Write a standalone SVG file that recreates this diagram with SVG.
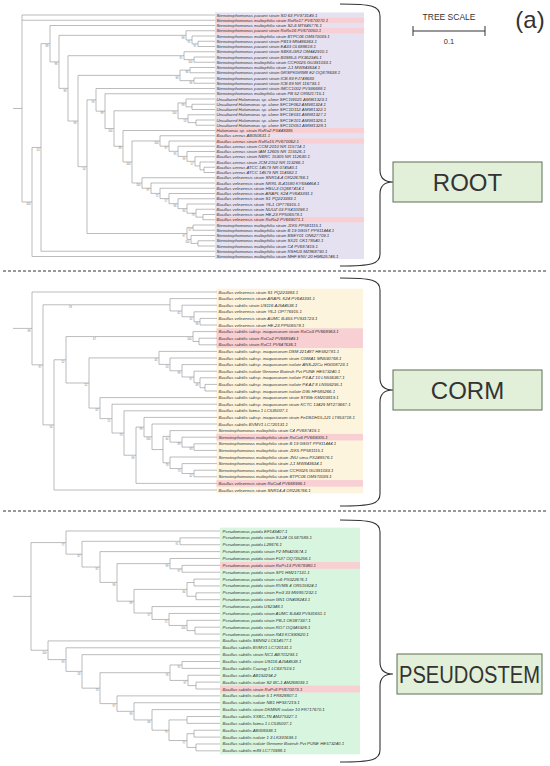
<svg xmlns="http://www.w3.org/2000/svg" width="550" height="766" viewBox="0 0 550 766">
<style>
.br{fill:none;stroke:#8f8f8f;stroke-width:0.6}
.lf{font-family:"Liberation Sans",Arial,sans-serif;font-style:italic;font-size:4.3px;fill:#333}
.bs{font-family:"Liberation Sans",Arial,sans-serif;font-size:2.6px;fill:#777;text-anchor:end}
.hl{fill:#f8cfd3}
.dash{stroke:#333;stroke-width:1;stroke-dasharray:3 2}
.brace{fill:none;stroke:#333;stroke-width:1.1}
.box{fill:#e2efd9;stroke:#5f6f55;stroke-width:1}
.big{font-family:"Liberation Sans",Arial,sans-serif;font-size:24px;fill:#333;text-anchor:middle}
</style>
<rect width="550" height="766" fill="#fff"/>
<g id="panel-backgrounds">
<rect x="215" y="12.4" width="149" height="246.7" fill="#e5e1f0"/>
<rect x="216.5" y="288.7" width="146.5" height="204.6" fill="#fdf4de"/>
<rect x="220" y="527.6" width="140" height="226.7" fill="#d8f5e0"/>
<rect class="hl" x="215" y="17.6" width="149" height="5.25"/>
<rect class="hl" x="215" y="28.1" width="149" height="5.25"/>
<rect class="hl" x="215" y="127.9" width="149" height="5.25"/>
<rect class="hl" x="215" y="138.4" width="149" height="5.25"/>
<rect class="hl" x="215" y="217.1" width="149" height="5.25"/>
<rect class="hl" x="216.5" y="328.3" width="146.5" height="19.8"/>
<rect class="hl" x="216.5" y="433.9" width="146.5" height="6.6"/>
<rect class="hl" x="216.5" y="480.1" width="146.5" height="6.6"/>
<rect class="hl" x="220" y="561.9" width="140" height="6.87"/>
<rect class="hl" x="220" y="685.6" width="140" height="6.87"/>
</g>
<g id="connectors">
<path class="br" d="M13 108.5H22M22 15V201.98M22 15H215M22 20.25H215M22 201.98H32
M32 147.46V256.5M32 147.46H41M32 256.5H215
M41 43.68V251.25M41 43.68H50M41 251.25H215
M50 25.5V61.85M50 25.5H215M50 61.85H59
M59 35.34V88.36M59 35.34H186M59 88.36H68
M186 30.75V39.94M186 30.75H215M186 39.94H192
M192 36V43.88M192 36H215M192 43.88H198
M198 41.25V46.5M198 41.25H215M198 46.5H215
M68 55.69V121.03M68 55.69H184M68 121.03H78
M184 51.75V59.63M184 51.75H215M184 59.63H194
M194 57V62.25M194 57H215M194 62.25H215
M78 75.38V166.68M78 75.38H180M78 166.68H87
M180 70.13V80.63M180 70.13H190M180 80.63H194
M190 67.5V72.75M190 67.5H215M190 72.75H215
M194 78V83.25M194 78H215M194 83.25H215
M87 99.82V233.53M87 99.82H96M87 233.53H187
M96 88.5V111.14M96 88.5H215M96 111.14H105
M105 93.75V128.53M105 93.75H215M105 128.53H114
M114 110.81V146.24M114 110.81H178M114 146.24H123
M178 102.94V118.69M178 102.94H186M178 118.69H188
M186 99V106.88M186 99H215M186 106.88H192
M192 104.25V109.5M192 104.25H215M192 109.5H215
M188 114.75V122.63M188 114.75H215M188 122.63H196
M196 120V125.25M196 120H215M196 125.25H215
M123 130.5V161.97M123 130.5H215M123 161.97H132
M132 140.96V182.98M132 140.96H160M132 182.98H142
M160 135.75V146.17M160 135.75H215M160 146.17H169
M169 141V151.34M169 141H215M169 151.34H178
M178 146.25V156.42M178 146.25H215M178 156.42H187
M187 151.5V161.34M187 151.5H215M187 161.34H195
M195 156.75V165.94M195 156.75H215M195 165.94H200
M200 162V169.88M200 162H215M200 169.88H204
M204 167.25V172.5M204 167.25H215M204 172.5H215
M142 177.75V188.21M142 177.75H215M142 188.21H151
M151 183V193.42M151 183H215M151 193.42H160
M160 188.25V198.59M160 188.25H215M160 198.59H169
M169 193.5V203.67M169 193.5H215M169 203.67H178
M178 198.75V208.59M178 198.75H215M178 208.59H187
M187 204V213.19M187 204H215M187 213.19H196
M196 209.25V217.13M196 209.25H215M196 217.13H203
M203 214.5V219.75M203 214.5H215M203 219.75H215
M187 227.63V239.44M187 227.63H193M187 239.44H191
M193 225V230.25M193 225H215M193 230.25H215
M191 235.5V243.38M191 235.5H215M191 243.38H198
M198 240.75V246M198 240.75H215M198 246H215"/>
<path class="br" d="M13 328.4H32M32 292V364.84M32 292H217M32 364.84H43
M43 304.79V424.89M43 304.79H170M43 424.89H54
M170 298.6V310.98M170 298.6H217M170 310.98H182
M182 305.2V316.75M182 305.2H217M182 316.75H194
M194 311.8V321.7M194 311.8H217M194 321.7H200
M200 318.4V325M200 318.4H217M200 325H217
M54 359.78V490M54 359.78H66M54 490H217
M66 336.55V383M66 336.55H193M66 383H89
M193 331.6V341.5M193 331.6H217M193 341.5H199
M199 338.2V344.8M199 338.2H217M199 344.8H217
M89 357.9V408.1M89 357.9H159M89 408.1H100
M159 351.4V364.4M159 351.4H217M159 364.4H170
M170 358V370.79M170 358H217M170 370.79H182
M182 364.6V376.98M182 364.6H217M182 376.98H194
M194 371.2V382.75M194 371.2H217M194 382.75H200
M200 377.8V387.7M200 377.8H217M200 387.7H205
M205 384.4V391M205 384.4H217M205 391H217
M100 397.6V418.6M100 397.6H217M100 418.6H112
M112 404.2V433.03M112 404.2H217M112 433.03H124
M124 410.8V455.25M124 410.8H217M124 455.25H136
M136 427.1V483.4M136 427.1H144M136 483.4H217
M144 417.4V436.79M144 417.4H217M144 436.79H152
M152 424V449.58M152 424H217M152 449.58H163
M163 436.38V462.78M163 436.38H170M163 462.78H170
M170 430.6V442.15M170 430.6H217M170 442.15H182
M182 437.2V447.1M182 437.2H217M182 447.1H194
M194 443.8V450.4M194 443.8H217M194 450.4H217
M170 457V468.55M170 457H217M170 468.55H182
M182 463.6V473.5M182 463.6H217M182 473.5H194
M194 470.2V476.8M194 470.2H217M194 476.8H217"/>
<path class="br" d="M13 596.42H31M31 542.58V650.26M31 542.58H66M31 650.26H48
M66 531V554.17M66 531H220M66 554.17H82
M82 541.31V567.02M82 541.31H180M82 567.02H100
M180 537.87V544.74M180 537.87H220M180 544.74H220
M100 551.61V582.42M100 551.61H220M100 582.42H117
M117 563.63V601.2M117 563.63H170M117 601.2H134
M170 558.48V568.79M170 558.48H220M170 568.79H182
M182 565.35V572.22M182 565.35H220M182 572.22H220
M134 589.4V613.01M134 589.4H187M134 613.01H152
M187 582.53V596.27M187 582.53H194M187 596.27H196
M194 579.09V585.96M194 579.09H220M194 585.96H220
M196 592.83V599.7M196 592.83H220M196 599.7H220
M152 606.57V619.45M152 606.57H220M152 619.45H169
M169 613.44V625.46M169 613.44H220M169 625.46H187
M187 620.31V630.62M187 620.31H220M187 630.62H195
M195 627.18V634.05M195 627.18H220M195 634.05H220
M48 640.92V659.6M48 640.92H220M48 659.6H66
M66 647.79V671.41M66 647.79H220M66 671.41H82
M82 654.66V688.16M82 654.66H220M82 688.16H100
M100 672.7V703.61M100 672.7H170M100 703.61H117
M170 664.97V680.43M170 664.97H182M170 680.43H188
M182 661.53V668.4M182 661.53H220M182 668.4H220
M188 675.27V685.58M188 675.27H220M188 685.58H196
M196 682.14V689.01M196 682.14H220M196 689.01H220
M117 695.88V711.34M117 695.88H220M117 711.34H134
M134 702.75V719.93M134 702.75H220M134 719.93H152
M152 709.62V730.23M152 709.62H220M152 730.23H169
M169 719.93V740.54M169 719.93H187M169 740.54H187
M187 716.49V723.36M187 716.49H220M187 723.36H220
M187 733.67V747.41M187 733.67H194M187 747.41H196
M194 730.23V737.1M194 730.23H220M194 737.1H220
M196 743.97V750.84M196 743.97H220M196 750.84H220"/>
<path class="brace" d="M340 4C372 4 380 6 380 16V170Q380 182 393 182Q380 182 380 194V254C380 264 372 266 340 266"/>
<path class="brace" d="M340 278C372 278 380 280 380 290V378Q380 390 393 390Q380 390 380 402V494C380 504 372 506 340 506"/>
<path class="brace" d="M340 520C372 520 380 522 380 532V662Q380 674 393 674Q380 674 380 686V750C380 760 372 762 340 762"/>
</g>
<g id="separators">
<line class="dash" x1="3" y1="271" x2="547" y2="271"/>
<line class="dash" x1="3" y1="511" x2="547" y2="511"/>
</g>
<g id="bootstrap-root">
<text x="30.5" y="205.2" class="bs">100</text><text x="39.5" y="150.7" class="bs">53</text><text x="48.5" y="46.9" class="bs">89</text><text x="57.5" y="65.1" class="bs">98</text><text x="66.5" y="91.6" class="bs">98</text><text x="76.5" y="124.2" class="bs">90</text><text x="85.5" y="169.9" class="bs">54</text><text x="94.5" y="103" class="bs">59</text><text x="103.5" y="114.3" class="bs">99</text><text x="112.5" y="131.7" class="bs">100</text><text x="121.5" y="149.4" class="bs">99</text><text x="130.5" y="165.2" class="bs">100</text><text x="184.5" y="38.5" class="bs">98</text><text x="190.5" y="43.1" class="bs">91</text><text x="196.5" y="47.1" class="bs">91</text><text x="182.5" y="58.9" class="bs">91</text><text x="192.5" y="62.8" class="bs">100</text><text x="178.5" y="78.6" class="bs">98</text><text x="188.5" y="73.3" class="bs">86</text><text x="192.5" y="83.8" class="bs">86</text><text x="176.5" y="114" class="bs">100</text><text x="184.5" y="106.1" class="bs">99</text><text x="186.5" y="121.9" class="bs">53</text><text x="158.5" y="144.2" class="bs">100</text><text x="167.5" y="149.4" class="bs">97</text><text x="176.5" y="154.5" class="bs">95</text><text x="185.5" y="159.6" class="bs">99</text><text x="193.5" y="164.5" class="bs">57</text><text x="140.5" y="186.2" class="bs">100</text><text x="149.5" y="191.4" class="bs">97</text><text x="158.5" y="196.6" class="bs">72</text><text x="167.5" y="201.8" class="bs">57</text><text x="176.5" y="206.9" class="bs">98</text><text x="185.5" y="211.8" class="bs">84</text><text x="194.5" y="216.4" class="bs">79</text><text x="185.5" y="236.7" class="bs">97</text><text x="191.5" y="230.8" class="bs">57</text><text x="189.5" y="242.6" class="bs">100</text>
</g>
<g id="bootstrap-corm">
<text x="30.5" y="331.6" class="bs">98</text><text x="41.5" y="368" class="bs">97</text><text x="72" y="308.3" class="bs">59</text><text x="180.5" y="314.2" class="bs">62</text><text x="192.5" y="320" class="bs">92</text><text x="198.5" y="324.9" class="bs">98</text><text x="52.5" y="428.1" class="bs">50</text><text x="64.5" y="363" class="bs">52</text><text x="191.5" y="339.8" class="bs">100</text><text x="96" y="339.8" class="bs">67</text><text x="87.5" y="386.2" class="bs">52</text><text x="157.5" y="361.1" class="bs">45</text><text x="168.5" y="367.6" class="bs">53</text><text x="180.5" y="374" class="bs">99</text><text x="192.5" y="380.2" class="bs">87</text><text x="198.5" y="386" class="bs">49</text><text x="98.5" y="411.3" class="bs">67</text><text x="110.5" y="421.8" class="bs">51</text><text x="122.5" y="436.2" class="bs">73</text><text x="134.5" y="458.5" class="bs">69</text><text x="142.5" y="430.3" class="bs">99</text><text x="150.5" y="440" class="bs">100</text><text x="168.5" y="439.6" class="bs">64</text><text x="180.5" y="445.4" class="bs">89</text><text x="192.5" y="450.3" class="bs">93</text><text x="168.5" y="466" class="bs">78</text><text x="180.5" y="471.8" class="bs">73</text><text x="192.5" y="476.7" class="bs">62</text>
</g>
<g id="bootstrap-pseudostem">
<text x="64.5" y="545.8" class="bs">77</text><text x="80.5" y="557.4" class="bs">67</text><text x="178.5" y="544.5" class="bs">91</text><text x="98.5" y="570.2" class="bs">91</text><text x="115.5" y="585.6" class="bs">99</text><text x="168.5" y="566.8" class="bs">99</text><text x="180.5" y="572" class="bs">97</text><text x="132.5" y="604.4" class="bs">89</text><text x="185.5" y="592.6" class="bs">84</text><text x="150.5" y="616.2" class="bs">57</text><text x="167.5" y="622.7" class="bs">72</text><text x="185.5" y="628.7" class="bs">100</text><text x="46.5" y="653.5" class="bs">100</text><text x="64.5" y="662.8" class="bs">93</text><text x="80.5" y="674.6" class="bs">58</text><text x="98.5" y="691.4" class="bs">74</text><text x="168.5" y="675.9" class="bs">76</text><text x="180.5" y="668.2" class="bs">91</text><text x="186.5" y="683.6" class="bs">97</text><text x="115.5" y="706.8" class="bs">97</text><text x="132.5" y="714.5" class="bs">99</text><text x="150.5" y="723.1" class="bs">66</text><text x="167.5" y="733.4" class="bs">79</text><text x="185.5" y="743.7" class="bs">77</text>
</g>
<g id="leaves-root" class="lf">
<text x="216.5" y="16.5">Stenotrophomonas pavanii strain SD 63 PV973149.1</text>
<text x="216.5" y="21.75">Stenotrophomonas maltophilia strain RoRo17 PV670070.1</text>
<text x="216.5" y="27">Stenotrophomonas maltophilia strain S2-6 MT645776.1</text>
<text x="216.5" y="32.25">Stenotrophomonas pavanii strain RoRo16 PV670050.1</text>
<text x="216.5" y="37.5">Stenotrophomonas maltophilia strain BTPC06 OM970039.1</text>
<text x="216.5" y="42.75">Stenotrophomonas pavanii strain PB19 MN486363.1</text>
<text x="216.5" y="48">Stenotrophomonas pavanii strain EA33 OL688618.1</text>
<text x="216.5" y="53.25">Stenotrophomonas pavanii strain SBK8-GR2 OM442910.1</text>
<text x="216.5" y="58.5">Stenotrophomonas pavanii strain B0985-5 PX362345.1</text>
<text x="216.5" y="63.75">Stenotrophomonas maltophilia strain CCF0025 GU391033.1</text>
<text x="216.5" y="69">Stenotrophomonas maltophilia strain J-1 MW843634.1</text>
<text x="216.5" y="74.25">Stenotrophomonas pavanii strain GRSPKGRM8 E2 OQ878638.1</text>
<text x="216.5" y="79.5">Stenotrophomonas pavanii strain ICB 89 FJ748683</text>
<text x="216.5" y="84.75">Stenotrophomonas pavanii strain ICB 89 NR 116793.1</text>
<text x="216.5" y="90">Stenotrophomonas pavanii strain IMCC1002 PV936688.1</text>
<text x="216.5" y="95.25">Stenotrophomonas maltophilia strain PB 52 OR821715.1</text>
<text x="216.5" y="100.5">Uncultured Halomonas sp. clone SFC1W021 AM981323.1</text>
<text x="216.5" y="105.75">Uncultured Halomonas sp. clone SFC1F062 AM981324.1</text>
<text x="216.5" y="111">Uncultured Halomonas sp. clone SFC1D112 AM981322.1</text>
<text x="216.5" y="116.25">Uncultured Halomonas sp. clone SFC1E031 AM981327.1</text>
<text x="216.5" y="121.5">Uncultured Halomonas sp. clone SFC1E101 AM981326.1</text>
<text x="216.5" y="126.75">Uncultured Halomonas sp. clone SFC1D051 AM981328.1</text>
<text x="216.5" y="132">Halomonas sp. strain RoRo2 PX448385</text>
<text x="216.5" y="137.25">Bacillus cereus AB050631.1</text>
<text x="216.5" y="142.5">Bacillus cereus strain RoRo15 PV670062.1</text>
<text x="216.5" y="147.75">Bacillus cereus strain CCM 2010 NR 115714.1</text>
<text x="216.5" y="153">Bacillus cereus strain IAM 12605 NR 115526.1</text>
<text x="216.5" y="158.25">Bacillus cereus strain NBRC 15305 NR 112630.1</text>
<text x="216.5" y="163.5">Bacillus cereus strain JCM 2152 NR 113266.1</text>
<text x="216.5" y="168.75">Bacillus cereus ATCC 14579 NR 074540.1</text>
<text x="216.5" y="174">Bacillus cereus ATCC 14579 NR 114582.1</text>
<text x="216.5" y="179.25">Bacillus velezensis strain SNR14-4 OR226766.1</text>
<text x="216.5" y="184.5">Bacillus velezensis strain NRRL B-41580 KY694464.1</text>
<text x="216.5" y="189.75">Bacillus velezensis strain HSU-3 OQ687414.1</text>
<text x="216.5" y="195">Bacillus velezensis strain ARAPL K24 PV643391.1</text>
<text x="216.5" y="200.25">Bacillus velezensis strain S1 PQ223383.1</text>
<text x="216.5" y="205.5">Bacillus velezensis strain Y6-1 OP776915.1</text>
<text x="216.5" y="210.75">Bacillus velezensis strain NUUZ 03 PX410098.1</text>
<text x="216.5" y="216">Bacillus velezensis strain HE-23 PP506578.1</text>
<text x="216.5" y="221.25">Bacillus velezensis strain RoRo2 PV669071.1</text>
<text x="216.5" y="226.5">Stenotrophomonas maltophilia strain J1K5 PP581115.1</text>
<text x="216.5" y="231.75">Stenotrophomonas maltophilia strain B 19 GSGT PP911444.1</text>
<text x="216.5" y="237">Stenotrophomonas maltophilia strain BSEY01 ON627709.1</text>
<text x="216.5" y="242.25">Stenotrophomonas maltophilia strain SX21 OK178540.1</text>
<text x="216.5" y="247.5">Stenotrophomonas maltophilia strain C4 PV687419.1</text>
<text x="216.5" y="252.75">Stenotrophomonas maltophilia strain RSHU3 MZ868790.1</text>
<text x="216.5" y="258">Stenotrophomonas maltophilia strain MHF ENV 20 HM625746.1</text>
</g>
<g id="leaves-corm" class="lf">
<text x="218.5" y="293.5">Bacillus velezensis strain S1 PQ223383.1</text>
<text x="218.5" y="300.1">Bacillus velezensis strain ARAPL K24 PV643391.1</text>
<text x="218.5" y="306.7">Bacillus subtilis strain US116 AJ544538.1</text>
<text x="218.5" y="313.3">Bacillus velezensis strain Y6-1 OP776915.1</text>
<text x="218.5" y="319.9">Bacillus velezensis strain AUMC B-655 PV931723.1</text>
<text x="218.5" y="326.5">Bacillus velezensis strain HE-23 PP506578.1</text>
<text x="218.5" y="333.1">Bacillus subtilis subsp. inaquosorum strain RoCo3 PV668963.1</text>
<text x="218.5" y="339.7">Bacillus subtilis strain RoCo2 PV668949.1</text>
<text x="218.5" y="346.3">Bacillus subtilis strain RoC1 PV647636.1</text>
<text x="218.5" y="352.9">Bacillus subtilis subsp. inaquosorum DSM 22148T HE582781.1</text>
<text x="218.5" y="359.5">Bacillus subtilis subsp. inaquosorum strain CGMA1 MN590768.1</text>
<text x="218.5" y="366.1">Bacillus subtilis subsp. inaquosorum isolate ANS-22Cu HG008723.1</text>
<text x="218.5" y="372.7">Bacillus subtilis isolate Genome Biotech Pvt PUNE HE573240.1</text>
<text x="218.5" y="379.3">Bacillus subtilis subsp. inaquosorum isolate P3 AZ 10 LN556367.1</text>
<text x="218.5" y="385.9">Bacillus subtilis subsp. inaquosorum isolate P4 AZ 8 LN556295.1</text>
<text x="218.5" y="392.5">Bacillus subtilis subsp. inaquosorum isolate D95 HF585266.1</text>
<text x="218.5" y="399.1">Bacillus subtilis subsp. inaquosorum strain ST89b KM203819.1</text>
<text x="218.5" y="405.7">Bacillus subtilis subsp. inaquosorum strain KCTC 13429 MT273667.1</text>
<text x="218.5" y="412.3">Bacillus subtilis fatma 1 LC535007.1</text>
<text x="218.5" y="418.9">Bacillus subtilis subsp. inaquosorum strain FeDSDH15-121 LT853718.1</text>
<text x="218.5" y="425.5">Bacillus subtilis BVMV1 LC720131.1</text>
<text x="218.5" y="432.1">Stenotrophomonas maltophilia strain C4 PV687419.1</text>
<text x="218.5" y="438.7">Stenotrophomonas maltophilia strain RoCo6 PV669005.1</text>
<text x="218.5" y="445.3">Stenotrophomonas maltophilia strain B 19 GSGT PP911444.1</text>
<text x="218.5" y="451.9">Stenotrophomonas maltophilia strain J1K5 PP581115.1</text>
<text x="218.5" y="458.5">Stenotrophomonas maltophilia strain JNU sima PX248576.1</text>
<text x="218.5" y="465.1">Stenotrophomonas maltophilia strain J-1 MW843634.1</text>
<text x="218.5" y="471.7">Stenotrophomonas maltophilia strain CCF0025 GU391033.1</text>
<text x="218.5" y="478.3">Stenotrophomonas maltophilia strain BTPC06 OM970039.1</text>
<text x="218.5" y="484.9">Bacillus velezensis strain RoCo4 PV668996.1</text>
<text x="218.5" y="491.5">Bacillus velezensis strain SNR14-4 OR226766.1</text>
</g>
<g id="leaves-pseudostem" class="lf">
<text x="222.5" y="532.5">Pseudomonas putida EF143407.1</text>
<text x="222.5" y="539.37">Pseudomonas putida strain SJ-24 OL587589.1</text>
<text x="222.5" y="546.24">Pseudomonas putida L28676.1</text>
<text x="222.5" y="553.11">Pseudomonas putida strain P2 MN420674.1</text>
<text x="222.5" y="559.98">Pseudomonas putida strain FUI7 OQ735256.1</text>
<text x="222.5" y="566.85">Pseudomonas putida strain RoPs13 PV678980.1</text>
<text x="222.5" y="573.72">Pseudomonas putida strain SP1 HM217131.1</text>
<text x="222.5" y="580.59">Pseudomonas putida strain ss6 PX022676.1</text>
<text x="222.5" y="587.46">Pseudomonas putida strain RVMS 4 OR515824.1</text>
<text x="222.5" y="594.33">Pseudomonas putida strain Fei3 33 MW857232.1</text>
<text x="222.5" y="601.2">Pseudomonas putida strain GN1 ON408243.1</text>
<text x="222.5" y="608.07">Pseudomonas putida US2348.1</text>
<text x="222.5" y="614.94">Pseudomonas putida strain AUMC B-643 PV931651.1</text>
<text x="222.5" y="621.81">Pseudomonas putida strain PB-1 OK087337.1</text>
<text x="222.5" y="628.68">Pseudomonas putida strain RO7 OQ345926.1</text>
<text x="222.5" y="635.55">Pseudomonas putida strain R43 KC990620.1</text>
<text x="222.5" y="642.42">Bacillus subtilis SBNN2 LC614577.1</text>
<text x="222.5" y="649.29">Bacillus subtilis BVMV1 LC720131.1</text>
<text x="222.5" y="656.16">Bacillus subtilis strain NC1 AB701293.1</text>
<text x="222.5" y="663.03">Bacillus subtilis strain US116 AJ544538.1</text>
<text x="222.5" y="669.9">Bacillus subtilis Ccurug 1 LC637519.1</text>
<text x="222.5" y="676.77">Bacillus subtilis AB192294.2</text>
<text x="222.5" y="683.64">Bacillus subtilis isolate S2 BC-1 AM268039.1</text>
<text x="222.5" y="690.51">Bacillus subtilis strain RoPs8 PV670073.1</text>
<text x="222.5" y="697.38">Bacillus subtilis isolate 5 1 FR828807.1</text>
<text x="222.5" y="704.25">Bacillus subtilis isolate NB1 HF937219.1</text>
<text x="222.5" y="711.12">Bacillus subtilis strain DKMNR isolate 10 FR717670.1</text>
<text x="222.5" y="717.99">Bacillus subtilis XXBC-TN AM275327.1</text>
<text x="222.5" y="724.86">Bacillus subtilis fatma 1 LC535007.1</text>
<text x="222.5" y="731.73">Bacillus subtilis AB006938.1</text>
<text x="222.5" y="738.6">Bacillus subtilis isolate 1 3 LK391699.1</text>
<text x="222.5" y="745.47">Bacillus subtilis isolate Genome Biotech Pvt PUNE HE573240.1</text>
<text x="222.5" y="752.34">Bacillus subtilis m89 LC770988.1</text>
</g>
<g id="node-root">
<rect class="box" x="393" y="162" width="149" height="40"/>
<text class="big" x="467.5" y="191">ROOT</text>
</g>
<g id="node-corm">
<rect class="box" x="393" y="370" width="149" height="40"/>
<text class="big" x="467.5" y="399">CORM</text>
</g>
<g id="node-pseudostem">
<rect class="box" x="397" y="654" width="145" height="40"/>
<text class="big" transform="translate(469.5 682.5) scale(0.84 1)" x="0" y="0" font-size="22">PSEUDOSTEM</text>
</g>
<g id="scale-bar">
<text x="449" y="20" font-family="Liberation Sans, Arial, sans-serif" font-size="8.5" fill="#333" text-anchor="middle">TREE SCALE</text>
<path d="M413 31H485M413 26V36M485 26V36" fill="none" stroke="#333" stroke-width="1"/>
<text x="449" y="44" font-family="Liberation Sans, Arial, sans-serif" font-size="7.5" fill="#333" text-anchor="middle">0.1</text>
</g>
<g id="panel-label">
<text x="530" y="28" font-family="Liberation Sans, Arial, sans-serif" font-size="24" fill="#333" text-anchor="middle">(a)</text>
</g>
</svg>
